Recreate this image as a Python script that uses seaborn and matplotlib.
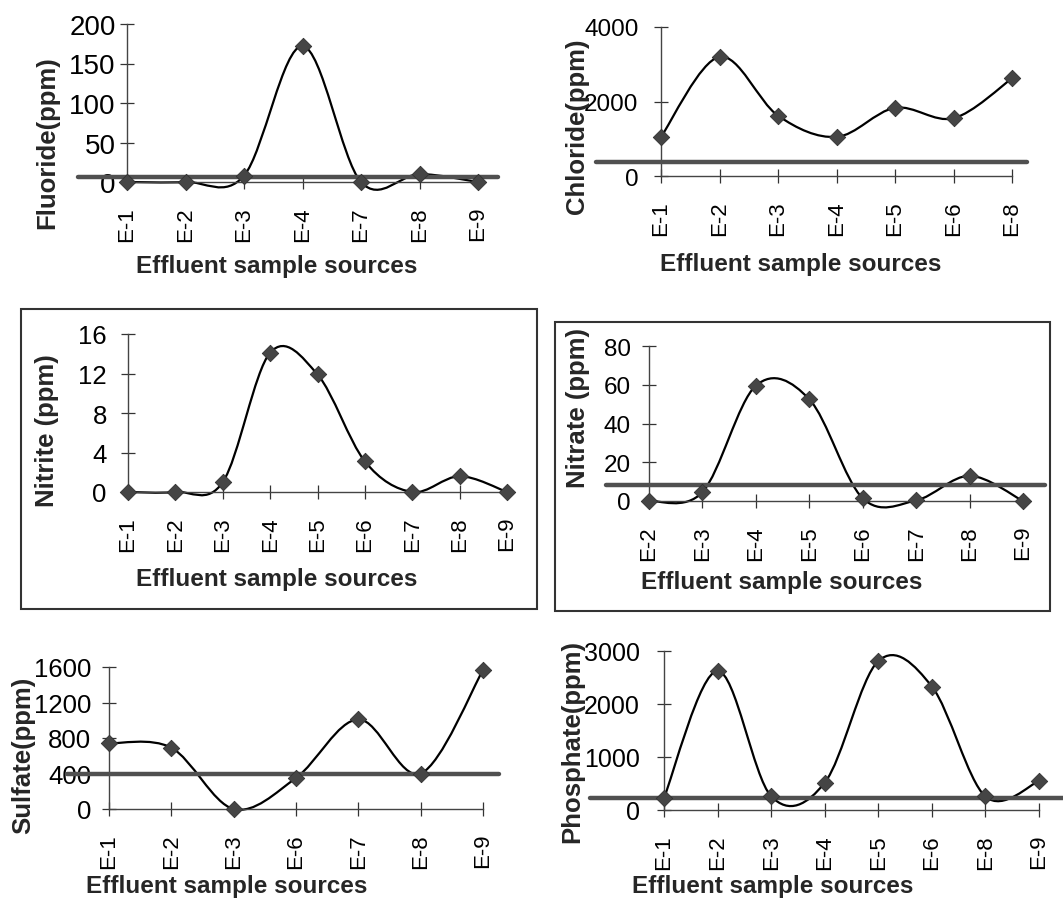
import matplotlib

matplotlib.use("Agg")
import matplotlib.pyplot as plt
import numpy as np
import pandas as pd
import seaborn as sns
from matplotlib.patches import PathPatch, Rectangle
from matplotlib.path import Path

# values (ppm)
fluoride_sources = ["E-1", "E-2", "E-3", "E-4", "E-7", "E-8", "E-9"]
fluoride_ppm = [0, 0, 8, 172, 0, 10, 0]
fluoride_limit = 6

chloride_sources = ["E-1", "E-2", "E-3", "E-4", "E-5", "E-6", "E-8"]
chloride_ppm = [1050, 3200, 1620, 1050, 1830, 1550, 2620]
chloride_limit = 380

nitrite_sources = ["E-1", "E-2", "E-3", "E-4", "E-5", "E-6", "E-7", "E-8", "E-9"]
nitrite_ppm = [0, 0, 1.0, 14.1, 11.9, 3.1, 0, 1.6, 0]

nitrate_sources = ["E-2", "E-3", "E-4", "E-5", "E-6", "E-7", "E-8", "E-9"]
nitrate_ppm = [0, 4.6, 59.5, 52.5, 1.4, 0.3, 13, 0]
nitrate_limit = 8.5

sulfate_sources = ["E-1", "E-2", "E-3", "E-6", "E-7", "E-8", "E-9"]
sulfate_ppm = [740, 690, 0, 350, 1010, 400, 1565]
sulfate_limit = 400

phosphate_sources = ["E-1", "E-2", "E-3", "E-4", "E-5", "E-6", "E-8", "E-9"]
phosphate_ppm = [230, 2625, 260, 515, 2810, 2330, 255, 545]
phosphate_limit = 230

W, H = 1063, 903

sns.set_theme(style="ticks")
plt.rcParams["font.family"] = ["Liberation Sans", "DejaVu Sans"]


def smooth_path(x, y):
    """Excel-like smoothed line: cubic Bezier segments through every point."""
    pts = np.column_stack([x, y]).astype(float)
    padded = np.vstack([pts[0], pts, pts[-1]])
    verts = [pts[0]]
    codes = [Path.MOVETO]
    for i in range(len(pts) - 1):
        p0, p1, p2, p3 = padded[i], padded[i + 1], padded[i + 2], padded[i + 3]
        verts += [p1 + (p2 - p0) / 6, p2 - (p3 - p1) / 6, p2]
        codes += [Path.CURVE4] * 3
    return Path(verts, codes)


def px_rect(left, right, top, bottom):
    return [left / W, 1 - bottom / H, (right - left) / W, (bottom - top) / H]


def draw_panel(fig, panel):
    left, right, top, bottom = panel["rect"]
    ax = fig.add_axes(px_rect(left, right, top, bottom))
    sources, values = panel["sources"], panel["values"]
    pos = np.arange(len(sources))
    data = pd.DataFrame({"pos": pos, "ppm": values})

    ax.add_patch(
        PathPatch(smooth_path(pos, values), fill=False, lw=1.6,
                  edgecolor="black", clip_on=False, zorder=2)
    )
    if panel["limit"] is not None:
        x0, x1 = panel["line"]
        ax.axhline(
            panel["limit"],
            xmin=(x0 - left) / (right - left),
            xmax=(x1 - left) / (right - left),
            color="#505050", lw=3.2, clip_on=False, zorder=3,
        )
    sns.scatterplot(
        data=data, x="pos", y="ppm", marker="D", s=70, color="#454545",
        edgecolor="#303030", linewidth=0.6, clip_on=False, zorder=4, ax=ax,
    )

    yticks = panel["yticks"]
    ax.set_xlim(0, len(sources) - 1)
    ax.set_ylim(0, yticks[-1])
    ax.set_xticks(pos, sources, rotation=90)
    ax.set_yticks(yticks, [str(t) for t in yticks])
    ax.tick_params(direction="inout", length=10.5, width=0.9, color="#333333",
                   labelcolor="black")
    ax.tick_params(axis="x", pad=12, labelsize=16)
    ax.tick_params(axis="y", pad=panel["ypad"], labelsize=panel["ysize"])
    sns.despine(ax=ax)
    for side in ("left", "bottom"):
        ax.spines[side].set_color("#444444")
        ax.spines[side].set_linewidth(1.0)

    ax.set_xlabel("Effluent sample sources", fontsize=17.5, fontweight="bold",
                  va="center")
    ax.xaxis.set_label_coords(panel["xlab"][0] / W, 1 - panel["xlab"][1] / H,
                              transform=fig.transFigure)
    ax.set_ylabel(panel["ylabel"], fontsize=18.5, fontweight="bold",
                  va="center", ha="center")
    ax.yaxis.set_label_coords(panel["ylab"][0] / W, 1 - panel["ylab"][1] / H,
                              transform=fig.transFigure)
    return ax


panels = [
    dict(sources=fluoride_sources, values=fluoride_ppm, limit=fluoride_limit,
         ylabel="Fluoride(ppm)", yticks=[0, 50, 100, 150, 200],
         rect=(127, 478, 25, 183), line=(78, 498), ypad=3, ysize=20,
         xlab=(277, 267), ylab=(47, 143)),
    dict(sources=chloride_sources, values=chloride_ppm, limit=chloride_limit,
         ylabel="Chloride(ppm)", yticks=[0, 2000, 4000],
         rect=(661, 1012, 28, 177), line=(596, 1027), ypad=11, ysize=17.5,
         xlab=(801, 265), ylab=(577, 126)),
    dict(sources=nitrite_sources, values=nitrite_ppm, limit=None,
         ylabel="Nitrite (ppm)", yticks=[0, 4, 8, 12, 16],
         rect=(128, 507, 335, 493), line=None, ypad=10, ysize=18.5,
         xlab=(277, 580), ylab=(47, 431)),
    dict(sources=nitrate_sources, values=nitrate_ppm, limit=nitrate_limit,
         ylabel="Nitrate (ppm)", yticks=[0, 20, 40, 60, 80],
         rect=(649, 1023, 347, 502), line=(606, 1045), ypad=8, ysize=17.5,
         xlab=(782, 583), ylab=(578, 408)),
    dict(sources=sulfate_sources, values=sulfate_ppm, limit=sulfate_limit,
         ylabel="Sulfate(ppm)", yticks=[0, 400, 800, 1200, 1600],
         rect=(109, 483, 668, 810), line=(67, 499), ypad=7.5, ysize=18.5,
         xlab=(227, 887), ylab=(23, 755)),
    dict(sources=phosphate_sources, values=phosphate_ppm, limit=phosphate_limit,
         ylabel="Phosphate(ppm)", yticks=[0, 1000, 2000, 3000],
         rect=(664, 1039, 652, 811), line=(590, 1063), ypad=12, ysize=18,
         xlab=(773, 887), ylab=(572, 742)),
]

fig = plt.figure(figsize=(W / 100, H / 100), dpi=100, facecolor="white")
for panel in panels:
    draw_panel(fig, panel)

# frames around the middle row charts
for x0, x1, y0, y1 in [(21, 537, 310, 610), (555, 1050, 323, 612)]:
    fig.add_artist(Rectangle((x0 / W, 1 - y1 / H), (x1 - x0) / W, (y1 - y0) / H,
                             transform=fig.transFigure, fill=False,
                             lw=1.5, edgecolor="#333333"))

fig.savefig("out.png", dpi=100)
